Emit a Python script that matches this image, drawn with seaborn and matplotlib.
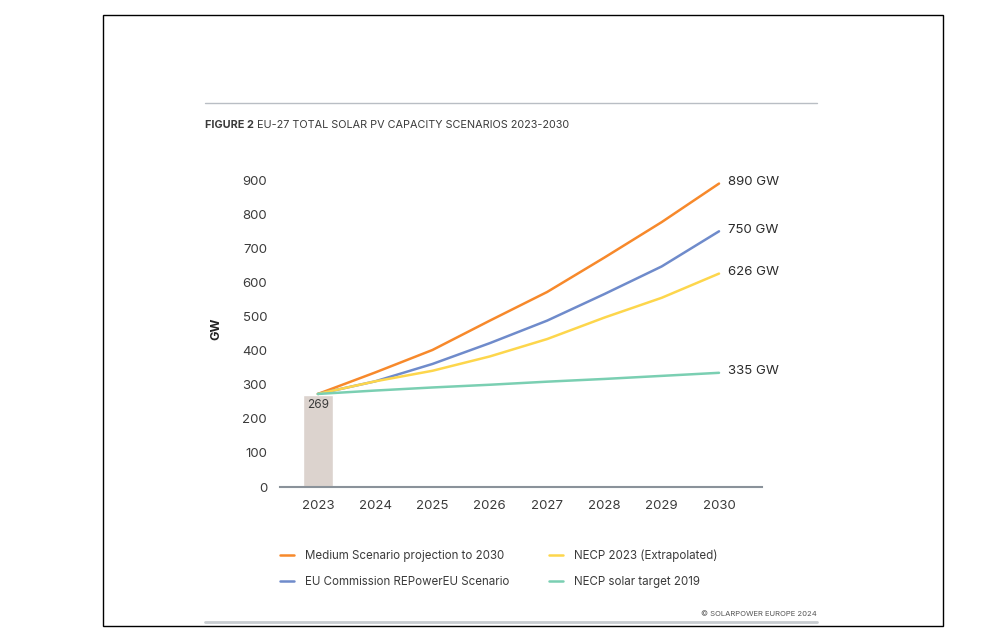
import pandas as pd
import matplotlib.pyplot as plt
import seaborn as sns
from matplotlib.lines import Line2D
from matplotlib.patches import Rectangle

years = [2023, 2024, 2025, 2026, 2027, 2028, 2029, 2030]
medium = [273, 336, 402, 488, 572, 673, 777, 890]
repower = [273, 310, 361, 422, 488, 566, 647, 750]
necp_2023 = [273, 310, 341, 383, 434, 497, 555, 626]
necp_2019 = [273, 283, 292, 300, 309, 317, 326, 335]
base_year = 2023
base_value = 269

series_names = [
    "Medium Scenario projection to 2030",
    "EU Commission REPowerEU Scenario",
    "NECP 2023 (Extrapolated)",
    "NECP solar target 2019",
]
end_labels = ["890 GW", "750 GW", "626 GW", "335 GW"]
colors = ["#f7892b", "#6f8bcb", "#fdd64c", "#7acfb2"]

frames = []
for name, vals in zip(series_names, [medium, repower, necp_2023, necp_2019]):
    frames.append(pd.DataFrame({"year": years, "GW": vals, "scenario": name}))
df = pd.concat(frames)

sns.set_style("white")
plt.rcParams["font.family"] = ["Inter", "DejaVu Sans"]
text_col = "#3b3b3b"

fig = plt.figure(figsize=(10, 6.4), dpi=100)
ax = fig.add_axes([0.2795, 0.239, 0.4825, 0.4955])

ax.bar(base_year, base_value, width=0.52, color="#dcd3ce", zorder=1)
ax.text(base_year, base_value - 12, str(base_value), ha="center", va="top",
        fontsize=8.5, color=text_col)

sns.lineplot(data=df, x="year", y="GW", hue="scenario", palette=colors,
             linewidth=1.8, legend=False, ax=ax, zorder=3)

for vals, lab in zip([medium, repower, necp_2023, necp_2019], end_labels):
    ax.text(2030.15, vals[-1] + 5, lab, ha="left", va="center",
            fontsize=9.5, color="#2b2b2b", clip_on=False)

ax.set_xlim(2022.33, 2030.75)
ax.set_ylim(0, 930)
ax.set_xticks(years)
ax.set_yticks(range(0, 901, 100))
ax.tick_params(axis="both", labelsize=9.5, colors=text_col, length=0)
ax.tick_params(axis="x", pad=9)
ax.tick_params(axis="y", pad=9)
ax.set_xlabel("")
ax.set_ylabel("GW", fontsize=9, fontweight="bold", color="#222222", labelpad=14)
for s in ["top", "right", "left"]:
    ax.spines[s].set_visible(False)
ax.spines["bottom"].set_color("#8a929a")
ax.spines["bottom"].set_linewidth(1.5)

handles = [Line2D([0], [0], color=c, lw=1.8) for c in colors]
fig.legend(handles, series_names,
           loc="upper left", bbox_to_anchor=(0.27, 0.158), ncol=2,
           frameon=False, fontsize=8.3, handlelength=1.2, handletextpad=0.9,
           columnspacing=3.5, labelspacing=1.2, labelcolor=text_col)

# page decorations
fig.add_artist(Line2D([0.205, 0.817], [1 - 103 / 640, 1 - 103 / 640],
                      color="#b9bec4", lw=1.0))
fig.add_artist(Line2D([0.205, 0.817], [1 - 622 / 640, 1 - 622 / 640],
                      color="#c8ccd0", lw=2.0))
fig.add_artist(Rectangle((0.103, 1 - 626 / 640), 0.84, (626 - 15) / 640,
                         fill=False, edgecolor="black", lw=1.0))
fig.text(0.205, 1 - 125 / 640, "FIGURE 2", fontsize=7.8, fontweight="bold",
         color=text_col, va="center")
fig.text(0.257, 1 - 125 / 640, "EU-27 TOTAL SOLAR PV CAPACITY SCENARIOS 2023-2030",
         fontsize=7.8, color=text_col, va="center")
fig.text(0.817, 1 - 614 / 640, "© SOLARPOWER EUROPE 2024", fontsize=5.5,
         color="#555555", ha="right", va="center")

fig.savefig("out.png", dpi=100)
